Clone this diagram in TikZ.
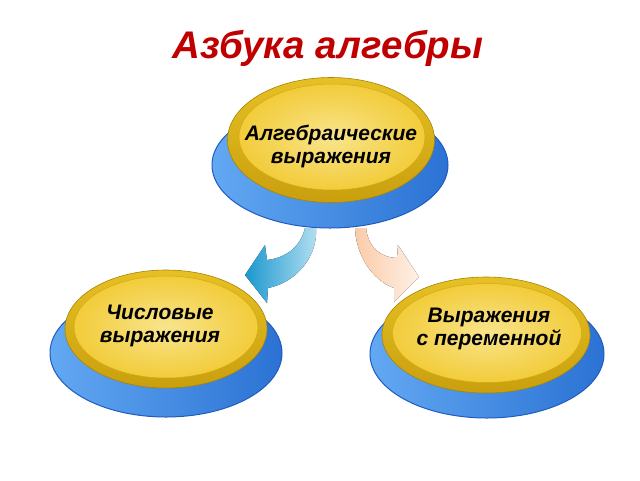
\documentclass[tikz,border=0pt]{standalone}
\usepackage{fontspec}
\setmainfont{Liberation Sans}
\usetikzlibrary{shapes.geometric}
\definecolor{titlered}{HTML}{C00000}
\definecolor{bluelight}{HTML}{62A8F2}
\definecolor{bluedark}{HTML}{2B72D4}
\definecolor{baseedge}{HTML}{1F5CBF}
\definecolor{rimtop}{HTML}{E6C024}
\definecolor{rimbot}{HTML}{C99F0E}
\definecolor{rimedge}{HTML}{A88400}
\definecolor{facein}{HTML}{F9E48C}
\definecolor{faceout}{HTML}{F2CC3A}
\definecolor{faceedge}{HTML}{D4A916}
\tikzset{
    base/.style={ellipse, inner sep=0pt, draw=baseedge, line width=1pt,
        left color=bluelight, right color=bluedark},
    rim/.style={ellipse, inner sep=0pt, draw=rimedge, line width=0.6pt,
        top color=rimtop, bottom color=rimbot},
    face/.style={ellipse, inner sep=0pt, draw=faceedge, line width=0.5pt,
        shading=radial, inner color=facein, outer color=faceout},
    caption/.style={font=\bfseries\itshape\fontsize{21}{23}\selectfont, align=center}
}

\begin{document}
\begin{tikzpicture}[x=1pt,y=-1pt]
\useasboundingbox (0,0) rectangle (640,480);

\node[font=\bfseries\itshape\fontsize{38.5}{42}\selectfont, text=titlered, anchor=base]
    (title) at (328,58) {Азбука алгебры};

% top disk
\node[base, minimum width=236pt, minimum height=126pt] (algbase) at (330,165) {};
\node[rim, minimum width=207pt, minimum height=125pt] (algrim) at (331,140) {};
\node[face, minimum width=186pt, minimum height=106pt] (alg) at (332,137) {};
\node[caption] (algtxt) at (331,146) {Алгебраические\\выражения};

% arrows
\coordinate (la) at (305,228);
\coordinate (lb) at (316,228);
\coordinate (ra) at (355,228);
\coordinate (rb) at (366,228);
\fill[left color={rgb,255:red,27;green,151;blue,207}, right color={rgb,255:red,180;green,224;blue,241}]
    (la) .. controls (300,248) and (285,258) .. (267,260)
    -- (265,245) -- (245,275) -- (267,303) -- (268,288)
    .. controls (298,282) and (318,255) .. (lb) -- cycle;
\fill[left color={rgb,255:red,250;green,204;blue,168}, right color={rgb,255:red,254;green,240;blue,230}]
    (rb) .. controls (368,248) and (382,258) .. (397,258)
    -- (398,245) -- (419,277) -- (394,302) -- (394,288)
    .. controls (372,280) and (356,255) .. (ra) -- cycle;

% left disk
\node[base, minimum width=232pt, minimum height=128pt] (numbase) at (166,353) {};
\node[rim, minimum width=202pt, minimum height=118pt] (numrim) at (166,329) {};
\node[face, minimum width=184pt, minimum height=102pt] (num) at (166,327) {};
\node[caption] (numtxt) at (160,326) {Числовые\\выражения};

% right disk
\node[base, minimum width=234pt, minimum height=128pt] (varbase) at (487,354) {};
\node[rim, minimum width=208pt, minimum height=116pt] (varrim) at (486,335) {};
\node[face, minimum width=189pt, minimum height=99pt] (var) at (487,333) {};
\node[caption] (vartxt) at (489,329) {Выражения\\с переменной};
\end{tikzpicture}
\end{document}
